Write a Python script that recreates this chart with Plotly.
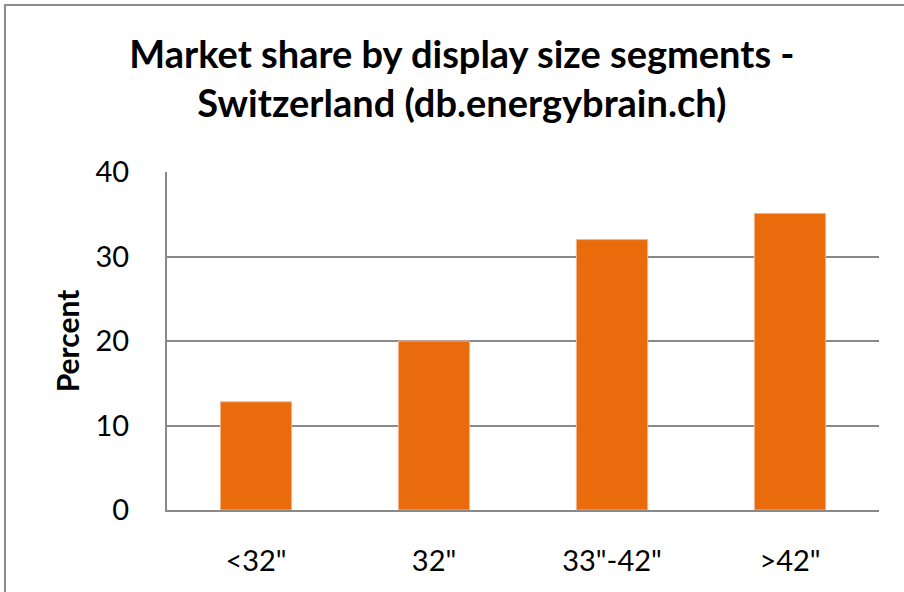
import plotly.graph_objects as go

# market share per display size segment (percent)
segments = ['<32"', '32"', '33"-42"', '>42"']
share = [12.8, 20.0, 32.0, 35.1]
y_ticks = [0, 10, 20, 30, 40]

font = "Lato, 'Open Sans', sans-serif"
grid_color = '#898989'

fig = go.Figure()
fig.add_trace(go.Bar(
    x=segments,
    y=share,
    marker_color='#E96B0B',
    marker_line=dict(color='#F5B48A', width=1),
    showlegend=False
))

fig.update_layout(
    width=904,
    height=592,
    margin=dict(l=167, r=25, t=172, b=82),
    paper_bgcolor='white',
    plot_bgcolor='white',
    font=dict(family=font, size=29, color='black'),
    bargap=0.6,
    title=dict(
        text='<b>Market share by display size segments -<br>Switzerland (db.energybrain.ch)</b>',
        x=0.511,
        xanchor='center',
        y=0.885,
        yanchor='top',
        font=dict(family=font, size=38, color='black')
    ),
    xaxis=dict(
        showgrid=False,
        showline=True,
        linecolor=grid_color,
        linewidth=2,
        ticks='',
        ticklabelstandoff=24,
        tickfont=dict(size=29)
    ),
    yaxis=dict(
        range=[0, 40],
        tickvals=y_ticks,
        showgrid=True,
        gridcolor=grid_color,
        gridwidth=2,
        showline=True,
        linecolor=grid_color,
        linewidth=2,
        zeroline=False,
        ticks='',
        ticklabelstandoff=30,
        tickfont=dict(size=29),
        title=dict(text='<b>Percent</b>', standoff=7, font=dict(size=30))
    ),
    shapes=[dict(
        type='rect', xref='paper', yref='paper',
        x0=-0.2275, x1=1.3, y0=-0.6, y1=1.494,
        line=dict(color='#8a8a8a', width=2),
        fillcolor='rgba(0,0,0,0)', layer='below'
    )]
)

# drop the default page margin so the figure sits at the window origin
fig.write_html("out.html", config={'displayModeBar': False},
               post_script="document.body.style.margin='0';")
